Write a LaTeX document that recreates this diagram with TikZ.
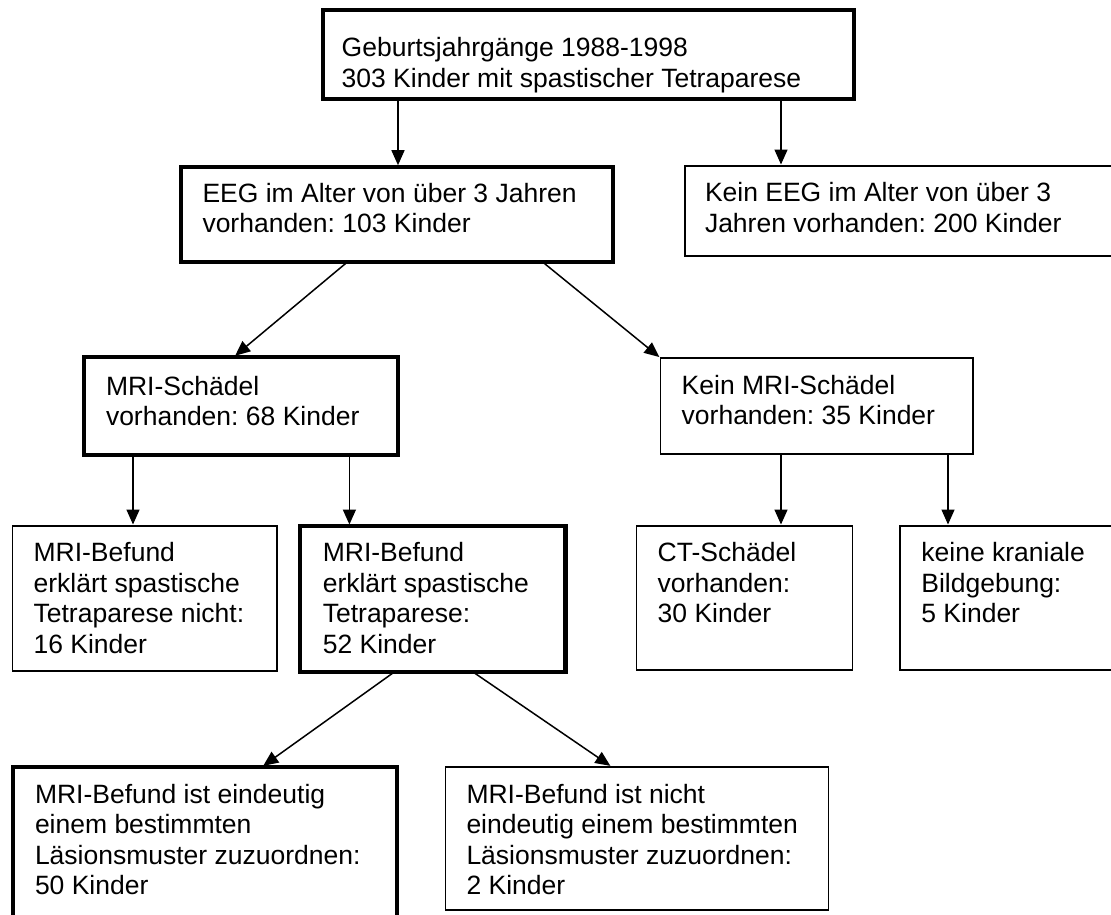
\documentclass[tikz,border=0pt]{standalone}
\usepackage{fontspec}
\setmainfont{Liberation Sans}
\usetikzlibrary{arrows.meta}
\frenchspacing
% #1 width, #2 height, #3 left padding, #4 first baseline offset, #5 text
\newcommand\bxt[5]{\parbox[t][#2pt][t]{#1pt}{\frenchspacing\raggedright\leftskip=#3pt\relax\rule{0pt}{#4pt}#5}}
\tikzset{
  bx/.style={draw, rectangle, inner sep=0pt, outer sep=0pt, anchor=north west,
    font=\fontsize{26.5}{30.5}\selectfont, line width=1.6pt},
  bxthick/.style={bx, line width=4.3pt},
  arr/.style={line width=1.5pt, shorten >=1.5pt, -{Triangle[length=15pt,width=13pt]}},
}
\begin{document}
\begin{tikzpicture}[x=1pt,y=-1pt]
\path[use as bounding box] (0,0) rectangle (1111,914);
\fill[white] (0,0) rectangle (1111,914);
\clip (0,0) rectangle (1111,914);

\node[bxthick] (b1) at (323,10) {\bxt{531}{89}{18.7}{46.5}{Geburtsjahrgänge 1988-1998\\303 Kinder mit spastischer Tetraparese}};
\node[bxthick] (b2) at (181,166.7) {\bxt{432}{95.6}{21.5}{35.6}{EEG im Alter von über 3 Jahren\\vorhanden: 103 Kinder}};
\node[bx] (b3) at (685,166) {\bxt{445}{89.7}{20}{35.7}{Kein EEG im Alter von über 3\\Jahren vorhanden: 200 Kinder}};
\node[bxthick] (b4) at (84,356.7) {\bxt{314}{98.3}{22}{38.3}{MRI-Schädel\\vorhanden: 68 Kinder}};
\node[bx] (b5) at (660.5,358) {\bxt{312.2}{96}{21.2}{36.3}{Kein MRI-Schädel\\vorhanden: 35 Kinder}};
\node[bx] (b6) at (12.4,526) {\bxt{264.6}{144.7}{21.2}{35.7}{MRI-Befund\\erklärt spastische\\Tetraparese nicht:\\16 Kinder}};
\node[bxthick] (b7) at (300,526) {\bxt{265.6}{145.7}{22.8}{35.7}{MRI-Befund\\erklärt spastische\\Tetraparese:\\52 Kinder}};
\node[bx] (b8) at (636.4,526) {\bxt{215.9}{144}{21.3}{35.7}{CT-Schädel\\vorhanden:\\30 Kinder}};
\node[bx] (b9) at (900,526) {\bxt{230}{144}{21.4}{35.7}{keine kraniale\\Bildgebung:\\5 Kinder}};
\node[bxthick] (b10) at (13,766.7) {\bxt{384}{163}{22}{36.6}{MRI-Befund ist eindeutig\\einem bestimmten\\Läsionsmuster zuzuordnen:\\50 Kinder}};
\node[bx] (b11) at (445.3,766.7) {\bxt{383.3}{143.3}{21.2}{36.6}{MRI-Befund ist nicht\\eindeutig einem bestimmten\\Läsionsmuster zuzuordnen:\\2 Kinder}};

\coordinate (x398) at (398,0);
\coordinate (x781) at (781,0);
\coordinate (x347) at (347,0);
\coordinate (x234) at (234,0);
\coordinate (x543) at (543,0);
\coordinate (x133) at (133,0);
\coordinate (x349) at (349.4,0);
\coordinate (x948) at (948,0);
\coordinate (x395) at (394.7,0);
\coordinate (x262) at (262,0);
\coordinate (x473) at (472.6,0);
\coordinate (x612) at (611.6,0);

\draw[arr] (b1.south -| x398) -- (b2.north -| x398);
\draw[arr] (b1.south -| x781) -- (b3.north -| x781);
\draw[arr] (b2.south -| x347) -- (b4.north -| x234);
\draw[arr] (b2.south -| x543) -- (b5.north west);
\draw[arr] (b4.south -| x133) -- (b6.north -| x133);
\draw[arr] (b4.south -| x349) -- (b7.north -| x349);
\draw[arr] (b5.south -| x781) -- (b8.north -| x781);
\draw[arr] (b5.south -| x948) -- (b9.north -| x948);
\draw[arr] (b7.south -| x395) -- (b10.north -| x262);
\draw[arr] (b7.south -| x473) -- (b11.north -| x612);
\end{tikzpicture}
\end{document}
